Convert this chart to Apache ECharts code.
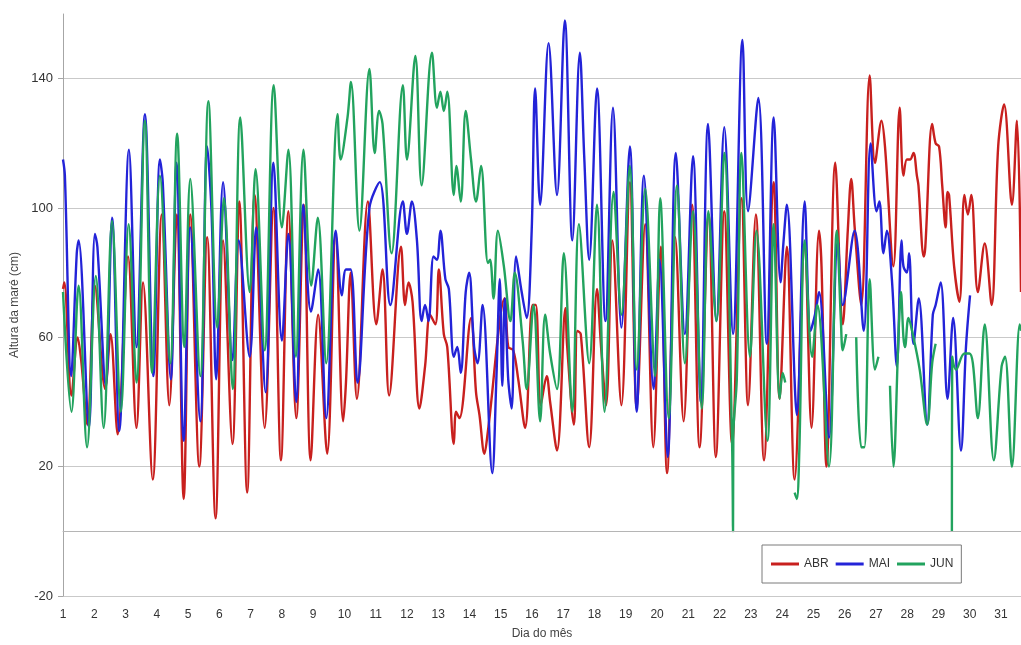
<!DOCTYPE html>
<html>
<head>
<meta charset="utf-8">
<title>Altura da maré</title>
<script src="https://cdn.jsdelivr.net/npm/echarts@6/dist/echarts.min.js"></script>
<style>
  html, body { margin: 0; padding: 0; background: #fff; }
  #chart { width: 1021px; height: 645px; }
</style>
</head>
<body>
<div id="chart"></div>
<script>
// Tide height (cm) per day of month: [day, height]; [day, null] breaks the line.
const ABR = [[1.00,75],[1.04,77],[1.27,42],[1.47,60],[1.58,53],[1.78,33],[2.02,76],[2.35,44],[2.52,61],[2.75,30],
  [3.08,85],[3.35,32],[3.56,77],[3.87,16],[4.16,98],[4.40,39],[4.64,98],[4.86,10],[5.07,98],[5.36,20],
  [5.61,91],[5.88,4],[6.12,90],[6.42,27],[6.64,102],[6.89,12],[7.13,104],[7.45,32],[7.73,100],[7.97,22],
  [8.21,99],[8.46,35],[8.70,101],[8.92,22],[9.16,67],[9.45,24],[9.72,92],[9.96,34],[10.05,46],[10.20,80],
  [10.40,41],[10.75,102],[11.02,64],[11.22,81],[11.43,42],[11.81,88],[11.94,70],[12.05,77],[12.18,71],[12.40,38],
  [12.58,51],[12.74,67],[12.91,64],[13.02,81],[13.18,61],[13.29,57],[13.50,27],[13.57,37],[13.68,35],[14.05,66],
  [14.21,43],[14.32,36],[14.48,24],[14.59,31],[15.13,72],[15.24,57],[15.40,56],[15.56,47],[15.78,32],[16.02,70],
  [16.12,70],[16.28,39],[16.47,48],[16.58,40],[16.80,25],[17.07,69],[17.12,58],[17.34,33],[17.45,62],[17.56,61],
  [17.83,26],[18.08,75],[18.21,57],[18.37,39],[18.57,90],[18.86,39],[19.13,108],[19.35,38],[19.62,95],[19.88,26],
  [20.12,88],[20.32,18],[20.58,91],[20.85,34],[21.12,101],[21.36,26],[21.65,98],[21.88,23],[22.15,99],[22.40,27],
  [22.70,103],[22.91,39],[23.16,98],[23.42,22],[23.73,108],[23.92,41],[24.15,88],[24.40,16],[24.72,88],[24.94,32],
  [25.18,93],[25.26,82],[25.42,20],[25.70,114],[25.94,64],[26.10,93],[26.21,109],[26.32,94],[26.53,70],[26.80,141],
  [26.97,114],[27.18,127],[27.29,119],[27.56,82],[27.76,131],[27.88,110],[27.99,115],[28.09,115],[28.20,117],[28.31,110],
  [28.36,107],[28.53,85],[28.58,88],[28.80,126],[28.91,120],[29.02,119],[29.12,107],[29.23,94],[29.29,105],[29.34,104],
  [29.50,82],[29.67,71],[29.83,104],[29.94,98],[30.05,104],[30.26,74],[30.48,89],[30.70,70],[30.91,119],[31.10,132],
  [31.35,101],[31.51,127],[31.64,74]];

const MAI = [[1.00,115],[1.06,110],[1.26,48],[1.44,86],[1.50,90],[1.83,32],[2.02,92],[2.10,88],[2.37,45],[2.57,97],
  [2.80,31],[3.11,118],[3.35,57],[3.62,129],[3.89,48],[4.10,115],[4.19,108],[4.45,47],[4.63,114],[4.86,28],
  [5.07,94],[5.39,34],[5.61,119],[5.75,99],[5.90,47],[6.12,108],[6.42,53],[6.62,90],[6.97,54],[7.18,94],
  [7.48,43],[7.73,114],[8.00,59],[8.21,92],[8.46,40],[8.68,101],[8.93,68],[9.16,81],[9.42,35],[9.72,93],
  [9.92,73],[10.05,81],[10.20,81],[10.42,46],[10.80,100],[11.13,108],[11.47,70],[11.87,102],[12.00,92],[12.16,102],
  [12.32,90],[12.47,65],[12.58,70],[12.69,65],[12.85,85],[12.96,84],[13.07,93],[13.23,78],[13.34,75],[13.50,54],
  [13.61,57],[13.72,49],[13.88,74],[13.99,80],[14.15,57],[14.26,52],[14.42,70],[14.73,18],[14.86,47],[14.97,78],
  [15.05,45],[15.13,72],[15.24,47],[15.35,38],[15.49,85],[15.67,74],[15.83,66],[15.99,93],[16.10,137],[16.26,101],
  [16.53,151],[16.80,104],[17.05,158],[17.29,90],[17.53,148],[17.67,116],[17.83,84],[18.08,137],[18.35,65],[18.59,131],
  [18.86,63],[19.13,119],[19.35,37],[19.58,110],[19.89,44],[20.08,84],[20.34,23],[20.60,117],[20.89,61],[21.15,116],
  [21.40,40],[21.63,126],[21.90,65],[22.15,125],[22.43,61],[22.73,152],[22.91,99],[23.24,134],[23.51,58],[23.73,128],
  [23.95,77],[24.04,89],[24.15,101],[24.42,42],[24.47,36],[24.72,102],[24.91,62],[25.05,67],[25.18,74],[25.50,29],
  [25.78,90],[25.94,70],[26.32,93],[26.61,62],[26.83,120],[27.02,99],[27.11,102],[27.24,86],[27.35,93],[27.51,78],
  [27.67,51],[27.82,90],[27.88,82],[27.99,80],[28.06,86],[28.20,58],[28.37,72],[28.64,33],[28.82,67],[28.91,70],
  [29.07,77],[29.29,41],[29.47,66],[29.72,25],[29.88,57],[30.01,73]];

const JUN = [[1.00,74],[1.27,37],[1.50,76],[1.77,26],[2.05,79],[2.30,32],[2.57,96],[2.85,37],[3.10,95],[3.35,46],
  [3.62,127],[3.85,49],[4.10,110],[4.43,52],[4.65,123],[4.88,57],[5.07,109],[5.39,48],[5.65,133],[5.93,63],
  [6.15,103],[6.43,44],[6.67,128],[6.97,74],[7.16,112],[7.45,56],[7.74,138],[8.00,94],[8.21,118],[8.45,54],
  [8.69,118],[8.94,76],[9.15,97],[9.42,52],[9.78,129],[9.88,115],[10.10,128],[10.21,139],[10.48,93],[10.80,143],
  [10.97,117],[11.11,130],[11.22,126],[11.51,86],[11.87,138],[12.00,115],[12.27,147],[12.47,107],[12.80,148],[12.96,131],
  [13.07,136],[13.18,130],[13.29,136],[13.50,104],[13.58,113],[13.72,102],[13.88,130],[14.05,115],[14.21,102],[14.37,113],
  [14.59,83],[14.66,84],[14.77,72],[14.91,93],[15.10,82],[15.31,65],[15.45,80],[15.70,59],[15.83,44],[16.05,70],
  [16.26,34],[16.42,67],[16.58,55],[16.80,44],[17.02,86],[17.29,37],[17.50,95],[17.83,52],[18.08,101],[18.32,37],
  [18.61,105],[18.86,67],[19.13,113],[19.35,50],[19.62,106],[19.94,48],[20.10,103],[20.37,35],[20.64,107],[20.89,52],
  [21.15,99],[21.43,38],[21.64,99],[21.90,65],[22.15,117],[22.40,27],[22.43,0],[22.44,30],[22.55,47],[22.70,117],
  [22.97,54],[23.18,93],[23.53,28],[23.73,95],[23.92,41],[24.02,49],[24.10,46],[24.20,null],[24.40,12],[24.47,10],
  [24.55,25],[24.72,90],[24.96,54],[25.13,70],[25.50,20],[25.75,93],[25.88,65],[25.94,56],[26.05,61],[26.20,null],
  [26.37,60],[26.53,26],[26.63,26],[26.80,78],[26.97,50],[27.08,54],[27.25,null],[27.45,45],[27.56,20],[27.72,60],
  [27.80,74],[27.88,60],[27.93,57],[28.04,66],[28.20,60],[28.40,50],[28.64,33],[28.80,52],[28.91,58],[29.10,null],
  [29.43,0],[29.44,54],[29.56,50],[29.83,55],[29.99,55],[30.10,52],[30.26,35],[30.48,64],[30.77,22],[31.02,51],
  [31.13,54],[31.35,20],[31.60,64],[31.64,62]];

const SERIES_NAMES = ['ABR', 'MAI', 'JUN'];
const COLORS = ['#C8201E', '#2323D8', '#22A35E'];
const Y_TICKS = { min: -20, max: 160, step: 40 };
const X_DAYS = { first: 1, last: 31.64 };

const FONT = "'Liberation Sans Narrow', 'Liberation Sans', Arial, sans-serif";

const chart = echarts.init(document.getElementById('chart'), null, { renderer: 'canvas' });

function tideSeries(name, data, color, extra) {
  return Object.assign({
    name: name,
    type: 'line',
    data: data,
    smooth: 0.35,
    showSymbol: false,
    symbol: 'none',
    connectNulls: false,
    lineStyle: { color: color, width: 2.4 },
    itemStyle: { color: color },
    emphasis: { disabled: true },
    animation: false
  }, extra || {});
}

chart.setOption({
  backgroundColor: '#ffffff',
  animation: false,
  textStyle: { fontFamily: FONT },
  grid: { left: 63, right: 0, top: 14, bottom: 47, containLabel: false },
  legend: {
    data: SERIES_NAMES,
    left: 762,
    top: 545,
    orient: 'horizontal',
    icon: 'rect',
    itemWidth: 28,
    itemHeight: 3,
    itemGap: 7,
    padding: [13, 8, 13, 9],
    borderColor: '#7a7a7a',
    borderWidth: 1,
    backgroundColor: '#ffffff',
    textStyle: { fontFamily: FONT, fontSize: 12, color: '#333' }
  },
  xAxis: {
    type: 'value',
    min: X_DAYS.first,
    max: X_DAYS.last,
    interval: 1,
    name: 'Dia do mês',
    nameLocation: 'middle',
    nameGap: 32,
    nameTextStyle: { fontFamily: FONT, fontSize: 12, color: '#444' },
    axisLine: { show: true, lineStyle: { color: '#bdbdbd', width: 1 } },
    axisTick: { show: false },
    axisLabel: { showMaxLabel: false, margin: 13, fontSize: 12, color: '#333', fontFamily: FONT },
    splitLine: { show: false }
  },
  yAxis: {
    type: 'value',
    min: Y_TICKS.min,
    max: Y_TICKS.max,
    interval: Y_TICKS.step,
    name: 'Altura da maré (cm)',
    nameLocation: 'middle',
    nameRotate: 90,
    nameGap: 42,
    nameTextStyle: { fontFamily: FONT, fontSize: 12, color: '#444' },
    axisLine: { show: true, lineStyle: { color: '#a6a6a6', width: 1 } },
    axisTick: { show: true, length: 5, lineStyle: { color: '#a6a6a6' } },
    axisLabel: { showMaxLabel: false, margin: 10, fontSize: 13, color: '#333', fontFamily: FONT },
    splitLine: { show: true, showMaxLine: false, lineStyle: { color: '#c9c9c9', width: 1 } }
  },
  series: [
    tideSeries(SERIES_NAMES[0], ABR, COLORS[0], {
      markLine: {
        silent: true,
        symbol: 'none',
        label: { show: false },
        lineStyle: { color: '#b5b5b5', type: 'solid', width: 1 },
        data: [{ yAxis: 0 }],
        animation: false
      }
    }),
    tideSeries(SERIES_NAMES[1], MAI, COLORS[1]),
    tideSeries(SERIES_NAMES[2], JUN, COLORS[2])
  ]
});
</script>
</body>
</html>
